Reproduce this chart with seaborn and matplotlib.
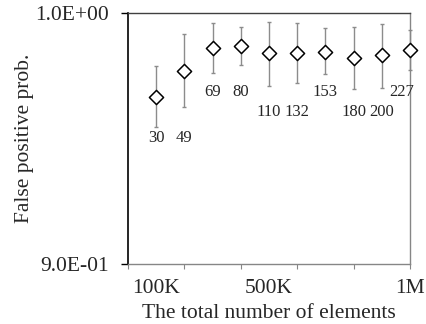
import matplotlib
matplotlib.use('Agg')
import matplotlib.pyplot as plt
import seaborn as sns
import pandas as pd
from matplotlib.ticker import FixedLocator, NullLocator

# data (x in thousands of elements)
elements = [100, 200, 300, 400, 500, 600, 700, 800, 900, 1000]
fp_prob = [0.9653, 0.9760, 0.9855, 0.9863, 0.9833, 0.9833, 0.9840, 0.9813, 0.9826, 0.9847]
err_hi = [0.9781, 0.9913, 0.9961, 0.9943, 0.9965, 0.9958, 0.9937, 0.9941, 0.9955, 0.9930]
err_lo = [0.9534, 0.9613, 0.9751, 0.9785, 0.9699, 0.9710, 0.9747, 0.9687, 0.9689, 0.9764]
counts = ['30', '49', '69', '80', '110', '132', '153', '180', '200', '227']
label_y = [0.9489, 0.9489, 0.9674, 0.9674, 0.9594, 0.9594, 0.9674, 0.9594, 0.9594, 0.9674]
label_dx = [0, 0, 0, 0, 0, 0, 0, 0, 0, -30]

df = pd.DataFrame({'n': elements, 'p': fp_prob, 'hi': err_hi, 'lo': err_lo})

sns.set_style('ticks')
plt.rcParams['font.family'] = ['Liberation Serif', 'DejaVu Serif']

fig = plt.figure(figsize=(4.26, 3.24), dpi=100)
ax = fig.add_axes([0.3005, 0.1852, 0.6619, 0.7737])

# error bars
ax.errorbar(df['n'], df['p'], yerr=[df['p'] - df['lo'], df['hi'] - df['p']],
            fmt='none', ecolor='#8c8c8c', elinewidth=1.0, capsize=1.5, capthick=1.0,
            clip_on=False, zorder=2)
sns.scatterplot(data=df, x='n', y='p', marker='D', s=52, facecolor='white',
                edgecolor='black', linewidth=1.1, ax=ax, zorder=3, clip_on=False)

for x, y, t, dx in zip(elements, label_y, counts, label_dx):
    ax.text(x + dx, y, t, ha='center', va='center', fontsize=12)

ax.set_yscale('log')
ax.set_ylim(0.9, 1.0)
ax.yaxis.set_major_locator(FixedLocator([0.9, 1.0]))
ax.yaxis.set_minor_locator(NullLocator())
ax.set_yticklabels(['9.0E-01', '1.0E+00'])

ax.set_xlim(0, 1000)
ax.xaxis.remove_overlapping_locs = False
ax.xaxis.set_major_locator(FixedLocator([0, 200, 400, 600, 800, 1000]))
ax.xaxis.set_minor_locator(FixedLocator([100, 500, 1000]))
ax.set_xticklabels([])
ax.set_xticklabels(['100K', '500K', '1M'], minor=True)
ax.tick_params(axis='x', which='major', length=3.6, width=0.8, color='#868686', direction='out')
ax.tick_params(axis='x', which='minor', length=0, pad=11, labelsize=15.5)
ax.tick_params(axis='y', which='major', length=5, width=1.0, color='black', direction='out',
               pad=9, labelsize=15.5)

ax.set_xlabel('The total number of elements', fontsize=15.5)
ax.set_ylabel('False positive prob.', fontsize=15.5)
ax.xaxis.set_label_coords(0.5, -0.158)
ax.yaxis.set_label_coords(-0.335, 0.5)

for side in ['top', 'right', 'bottom']:
    ax.spines[side].set_visible(True)
    ax.spines[side].set_color('#868686')
    ax.spines[side].set_linewidth(1.0)
ax.spines['top'].set_color('#404040')
ax.spines['left'].set_color('black')
ax.spines['left'].set_linewidth(1.2)

plt.savefig('out.png', dpi=100)
plt.close()
